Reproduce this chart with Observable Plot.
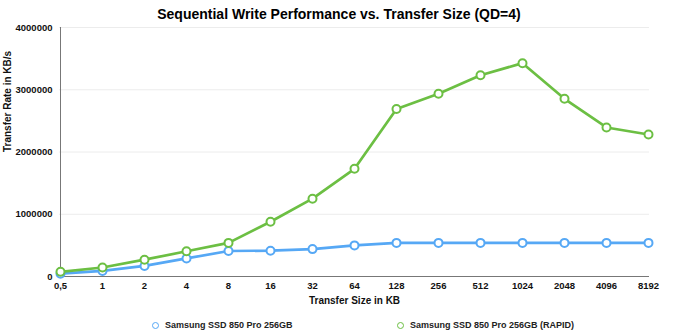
<!DOCTYPE html>
<html>
<head>
<meta charset="utf-8">
<script src="https://cdn.jsdelivr.net/npm/d3@7"></script>
<script src="https://cdn.jsdelivr.net/npm/@observablehq/plot@0.6"></script>
<style>
  html, body { margin: 0; padding: 0; background: #fff; }
  body { width: 678px; height: 330px; overflow: hidden; font-family: "Liberation Sans", Arial, sans-serif; position: relative; }
  #title { position: absolute; left: 0; top: 0; width: 678px; height: 24px; text-align: center; font-weight: bold; font-size: 14px; line-height: 28px; color: #000; z-index: 2; }
  #chart { position: absolute; left: 0; top: 20px; z-index: 1; }
  #chart svg { background: transparent !important; }
  #legend { position: absolute; left: 0; top: 318px; width: 678px; height: 14px; font-size: 9px; font-weight: bold; color: #222; }
  .item { position: absolute; top: 0; display: flex; align-items: center; height: 14px; }
  .dot { width: 5px; height: 5px; border-radius: 50%; border: 1.5px solid; background: #fff; margin-right: 6px; }
</style>
</head>
<body>
<div id="title">Sequential Write Performance vs. Transfer Size (QD=4)</div>
<div id="chart"></div>
<div id="legend"></div>
<script>
const sizes = ["0,5","1","2","4","8","16","32","64","128","256","512","1024","2048","4096","8192"];
const standard = [45000, 90000, 170000, 290000, 410000, 415000, 440000, 500000, 540000, 540000, 540000, 540000, 540000, 540000, 540000];
const rapid = [75000, 145000, 270000, 405000, 540000, 880000, 1250000, 1730000, 2690000, 2935000, 3234000, 3427000, 2855000, 2394000, 2281000];
const seriesNames = ["Samsung SSD 850 Pro 256GB", "Samsung SSD 850 Pro 256GB (RAPID)"];
const seriesColors = ["#56a8f5", "#6cbf43"];
const yTicks = [0, 1000000, 2000000, 3000000, 4000000];

const data = [];
sizes.forEach((s, i) => {
  data.push({size: s, value: standard[i], series: seriesNames[0]});
  data.push({size: s, value: rapid[i], series: seriesNames[1]});
});

const chart = Plot.plot({
  width: 678,
  height: 290,
  marginLeft: 59,
  marginRight: 29,
  marginTop: 7,
  marginBottom: 34,
  style: {fontFamily: "Liberation Sans, Arial, sans-serif", fontWeight: "bold", fontSize: "9.5px", color: "#111", background: "transparent"},
  x: {type: "point", domain: sizes, padding: 0, label: null},
  y: {domain: [0, 4000000], label: null},
  color: {domain: seriesNames, range: seriesColors},
  marks: [
    Plot.ruleY(yTicks.slice(1), {stroke: "#ececec", strokeWidth: 1}),
    Plot.ruleY([0], {stroke: "#777", strokeWidth: 1}),
    Plot.ruleX([sizes[0]], {y1: 0, y2: 4000000, stroke: "#777", strokeWidth: 1}),
    Plot.axisY({ticks: yTicks, tickFormat: d3.format("d"), tickSize: 0, tickPadding: 7, label: null, fontSize: 9.5}),
    Plot.axisX({tickSize: 0, tickPadding: 6, label: null, fontSize: 9.5}),
    Plot.text(["Transfer Size in KB"], {frameAnchor: "bottom", dy: 27, fontSize: 10, fontWeight: "bold"}),
    Plot.text(["Transfer Rate in KB/s"], {frameAnchor: "left", dx: -52, rotate: -90, fontSize: 10, fontWeight: "bold"}),
    Plot.line(data, {x: "size", y: "value", stroke: "series", strokeWidth: 2.7}),
    Plot.dot(data, {x: "size", y: "value", stroke: "series", fill: "#fff", r: 4, strokeWidth: 2})
  ]
});
document.getElementById("chart").appendChild(chart);

const legend = document.getElementById("legend");
const lefts = [152, 397];
seriesNames.forEach((n, i) => {
  const it = document.createElement("div");
  it.className = "item";
  it.style.left = lefts[i] + "px";
  const d = document.createElement("span");
  d.className = "dot";
  d.style.borderColor = seriesColors[i];
  const t = document.createElement("span");
  t.textContent = n;
  it.appendChild(d); it.appendChild(t);
  legend.appendChild(it);
});
</script>
</body>
</html>
